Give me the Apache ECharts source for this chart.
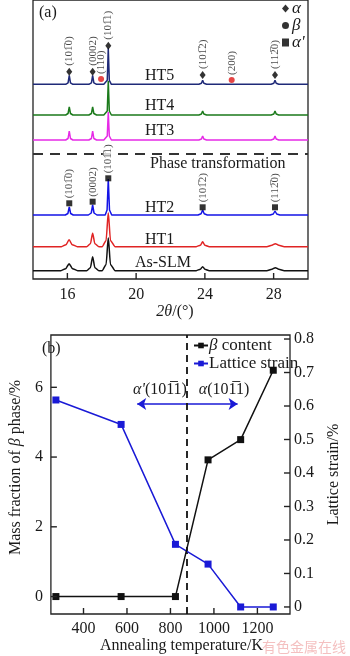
<!DOCTYPE html>
<html><head><meta charset="utf-8">
<script src="https://cdn.jsdelivr.net/npm/echarts@6/dist/echarts.min.js"></script>
<style>html,body{margin:0;padding:0;background:#fff}#c{width:350px;height:656px}</style>
</head><body><div id="c"></div>
<script>
// ================= Panel (a): XRD patterns =================
const thetaTicks = [16, 20, 24, 28];
const patternNames = ['HT5', 'HT4', 'HT3', 'HT2', 'HT1', 'As-SLM'];
// intensity profiles [2θ, intensity]
const ht5 = [[14,0],[15.9,0],[16.04,1.5],[16.11,9],[16.18,1.5],[16.32,0],[17.25,0],[17.4,1.5],[17.47,9],[17.54,1.5],[17.7,0],[17.95,0],[18.04,2],[18.12,0],[18.22,0],[18.32,4],[18.38,36],[18.44,4],[18.56,0],[23.65,0],[23.8,1],[23.87,4],[23.94,1],[24.1,0],[27.85,0],[28.01,1],[28.08,4],[28.15,1],[28.3,0],[30,0]];
const ht4 = [[14,0],[15.9,0],[16.04,1.5],[16.11,8],[16.18,1.5],[16.32,0],[17.25,0],[17.4,1.5],[17.47,8],[17.54,1.5],[17.7,0],[17.95,0],[18.04,1],[18.12,0],[18.22,0],[18.32,4],[18.38,34],[18.44,4],[18.56,0],[23.65,0],[23.8,1],[23.87,4],[23.94,1],[24.1,0],[27.85,0],[28.01,1],[28.08,4],[28.15,1],[28.3,0],[30,0]];
const ht3 = [[14,0],[15.9,0],[16.04,1.5],[16.11,9],[16.18,1.5],[16.32,0],[17.25,0],[17.4,1.5],[17.47,9],[17.54,1.5],[17.7,0],[17.95,0],[18.04,1],[18.12,0],[18.22,0],[18.32,4],[18.38,28],[18.44,4],[18.56,0],[23.65,0],[23.8,1],[23.87,4],[23.94,1],[24.1,0],[27.85,0],[28.01,1],[28.08,4],[28.15,1],[28.3,0],[30,0]];
const ht2 = [[14,0],[15.88,0],[16.03,1.5],[16.11,8],[16.19,1.5],[16.34,0],[17.22,0],[17.39,2],[17.47,10],[17.55,2],[17.72,0],[18.2,0],[18.31,5],[18.38,36],[18.45,5],[18.58,0],[23.6,0],[23.78,1.2],[23.87,5],[23.96,1.2],[24.14,0],[27.8,0],[27.98,1],[28.08,4],[28.18,1],[28.36,0],[30,0]];
const ht1 = [[14,0],[15.65,0],[15.92,2],[16.1,7],[16.28,2],[16.58,0],[17.12,0],[17.34,3],[17.47,13.5],[17.6,3],[17.84,0],[18.02,0],[18.25,6],[18.38,34],[18.51,6],[18.78,0],[23.5,0],[23.74,1.5],[23.87,5],[24.0,1.5],[24.26,0],[27.6,0],[27.9,1.5],[28.1,3],[28.3,1.5],[28.62,0],[30,0]];
const asSlm = [[14,0],[15.62,0],[15.9,2],[16.1,7],[16.3,2],[16.6,0],[17.12,0],[17.34,3],[17.47,14],[17.6,3],[17.84,0],[18.02,0],[18.25,6],[18.38,33],[18.51,6],[18.78,0],[23.5,0],[23.74,1.5],[23.87,4],[24.0,1.5],[24.26,0],[27.6,0],[27.9,1.5],[28.1,3],[28.3,1.5],[28.62,0],[30,0]];
const patterns = [ht5, ht4, ht3, ht2, ht1, asSlm];
const stackOffset = [194.7, 164, 139, 64, 32.3, 8.3];
const phaseLineLevel = 125;
// peak markers
const alphaPos = [16.11, 17.47, 18.38, 23.87, 28.08];
const alphaLevel = [207.3, 207.3, 233.3, 204, 204];
const hklLabels = ['(10'+'1\u0305'+'0)', '(0002)', '(10'+'1\u0305'+'1)', '(10'+'1\u0305'+'2)', '(11'+'2\u0305'+'0)'];
const betaPos = [17.96, 25.56];
const betaLevel = [200, 199];
const betaLabels = ['(110)', '(200)'];
const alphaPrimePos = [16.11, 17.47, 18.38, 23.87, 28.08];
const alphaPrimeLevel = [75.7, 77.3, 100.7, 71.7, 71.7];

// ================= Panel (b) =================
const temps = [273, 573, 823, 973, 1123, 1273];
const betaContent = [0, 0, 0, 3.92, 4.5, 6.49];
const latticeStrain = [0.618, 0.545, 0.187, 0.128, 0, 0];
const transitionT = 873;
const tempTicks = [400, 600, 800, 1000, 1200];
const massTicks = [0, 2, 4, 6];
const strainTicks = [0, 0.1, 0.2, 0.3, 0.4, 0.5, 0.6, 0.7, 0.8];
const arrowSpan = [647, 1109];
const arrowLevel = 0.606;

const thetaRange = [14, 30];
const tempRange = [250, 1350];
const massRange = [-0.5, 7.5];
const strainRange = [-0.021, 0.812];

const SERIF = '"Liberation Serif","Times New Roman",serif';
const colors = ['#1f2a78', '#1b7a1b', '#e62ae6', '#1414e6', '#e02424', '#111111'];
const ink = '#1a1a1a';
const TICK = 6;

const chart = echarts.init(document.getElementById('c'), null, {renderer: 'canvas'});

const lineSeries = patterns.map((p, i) => ({
  name: patternNames[i],
  type: 'line', xAxisIndex: 0, yAxisIndex: 0,
  data: p.map(d => [d[0], d[1] + stackOffset[i]]),
  showSymbol: false, symbol: 'none',
  smooth: i >= 4 ? 0.25 : false, smoothMonotone: 'x',
  lineStyle: {color: colors[i], width: 1.5},
  z: 2 + i,
  silent: true,
  markLine: i === 0 ? {
    symbol: 'none', silent: true, label: {show: false},
    lineStyle: {type: [10, 7], color: '#333', width: 1.8},
    data: [{yAxis: phaseLineLevel}]
  } : undefined
}));

const peakLabel = {
  show: true, position: 'top', distance: 2, rotate: 90, align: 'left', verticalAlign: 'middle',
  fontSize: 11, fontFamily: SERIF, color: ink,
  formatter: p => p.name
};

const series = lineSeries.concat([
  {
    name: 'α', type: 'scatter', xAxisIndex: 0, yAxisIndex: 0,
    symbol: 'diamond', symbolSize: [6, 8], itemStyle: {color: '#000'}, z: 20,
    data: alphaPos.map((x, i) => ({name: hklLabels[i], value: [x, alphaLevel[i]]})),
    label: peakLabel
  },
  {
    name: 'β', type: 'scatter', xAxisIndex: 0, yAxisIndex: 0,
    symbol: 'circle', symbolSize: 6, itemStyle: {color: '#e01818'}, z: 20,
    data: betaPos.map((x, i) => ({name: betaLabels[i], value: [x, betaLevel[i]]})),
    label: peakLabel
  },
  {
    name: "α'", type: 'scatter', xAxisIndex: 0, yAxisIndex: 0,
    symbol: 'rect', symbolSize: 6, itemStyle: {color: '#000'}, z: 20,
    data: alphaPrimePos.map((x, i) => ({name: hklLabels[i], value: [x, alphaPrimeLevel[i]]})),
    label: Object.assign({}, peakLabel, {backgroundColor: '#fff'})
  },
  {
    name: 'Lattice strain', type: 'line', xAxisIndex: 1, yAxisIndex: 2,
    data: temps.map((t, i) => [t, latticeStrain[i]]),
    symbol: 'rect', symbolSize: 7, showSymbol: true,
    lineStyle: {color: '#1a1ad6', width: 1.5}, itemStyle: {color: '#1a1ad6'}, z: 5,
    markLine: {
      silent: true, symbol: ['arrow', 'arrow'], symbolSize: 9, label: {show: false},
      lineStyle: {type: 'solid', color: '#1a1ad6', width: 1.5},
      data: [[{coord: [arrowSpan[0], arrowLevel]}, {coord: [arrowSpan[1], arrowLevel]}]]
    }
  },
  {
    name: 'β content', type: 'line', xAxisIndex: 1, yAxisIndex: 1,
    data: temps.map((t, i) => [t, betaContent[i]]),
    symbol: 'rect', symbolSize: 7, showSymbol: true,
    lineStyle: {color: '#111', width: 1.5}, itemStyle: {color: '#111'}, z: 6,
    markLine: {
      silent: true, symbol: 'none', label: {show: false},
      lineStyle: {type: [7, 5], color: '#111', width: 1.8},
      data: [{xAxis: transitionT}]
    }
  }
]);

const axisLabelStyle = {fontSize: 16, fontFamily: SERIF, color: ink};
const richItalic = {i: {fontStyle: 'italic', fontSize: 16, fontFamily: SERIF, color: ink}};
const richItalicL = {i: {fontStyle: 'italic', fontSize: 17, fontFamily: SERIF, color: ink}};
const noTick = {show: false};
const aLine = {show: false, onZero: false};

const texts = [
  {type: 'text', x: 39, y: 13, style: {text: '(a)', font: '16px ' + SERIF, fill: ink, verticalAlign: 'middle'}},
  {type: 'text', x: 145, y: 76, style: {text: 'HT5', font: '16px ' + SERIF, fill: ink, verticalAlign: 'middle'}},
  {type: 'text', x: 145, y: 106, style: {text: 'HT4', font: '16px ' + SERIF, fill: ink, verticalAlign: 'middle'}},
  {type: 'text', x: 145, y: 131, style: {text: 'HT3', font: '16px ' + SERIF, fill: ink, verticalAlign: 'middle'}},
  {type: 'text', x: 150, y: 164, style: {text: 'Phase transformation', font: '16px ' + SERIF, fill: ink, verticalAlign: 'middle'}},
  {type: 'text', x: 145, y: 208, style: {text: 'HT2', font: '16px ' + SERIF, fill: ink, verticalAlign: 'middle'}},
  {type: 'text', x: 145, y: 240, style: {text: 'HT1', font: '16px ' + SERIF, fill: ink, verticalAlign: 'middle'}},
  {type: 'text', x: 135, y: 263, style: {text: 'As-SLM', font: '16px ' + SERIF, fill: ink, verticalAlign: 'middle'}},
  {type: 'text', x: 42, y: 349, style: {text: '(b)', font: '16px ' + SERIF, fill: ink, verticalAlign: 'middle'}},
  {type: 'text', x: 160, y: 390, style: {text: "{i|α'}(10" + '1\u0305' + '1)', font: '16px ' + SERIF, fill: ink, align: 'center', verticalAlign: 'middle', rich: richItalic}},
  {type: 'text', x: 224, y: 390, style: {text: '{i|α}(10' + '1\u0305' + '1)', font: '16px ' + SERIF, fill: ink, align: 'center', verticalAlign: 'middle', rich: richItalic}},
  {type: 'text', x: 346, y: 647, style: {text: '有色金属在线', font: '14px "Noto Sans CJK SC"', fill: 'rgba(235,140,140,0.55)', align: 'right', verticalAlign: 'middle'}}
];

const option = {
  animation: false,
  backgroundColor: '#fff',
  textStyle: {fontFamily: SERIF},
  grid: [
    {left: 33, top: 0, width: 275, height: 279, show: true, borderColor: '#222', borderWidth: 1.3, containLabel: false},
    {left: 34, top: 335, width: 274, height: 279, show: true, borderColor: '#222', borderWidth: 1.3, containLabel: false}
  ],
  legend: [
    {
      orient: 'vertical', left: 282, top: 0, padding: 0, itemGap: 0,
      itemWidth: 7, itemHeight: 8, selectedMode: false,
      textStyle: {fontSize: 17, fontFamily: SERIF, fontStyle: 'italic', color: ink, lineHeight: 16, padding: [0, 0, 0, -2]},
      data: [
        {name: 'α', icon: 'diamond', itemStyle: {color: '#000'}},
        {name: 'β', icon: 'circle', itemStyle: {color: '#000'}},
        {name: "α'", icon: 'rect', itemStyle: {color: '#000'}}
      ]
    },
    {
      orient: 'vertical', left: 193, top: 337, padding: 0, itemGap: 1,
      itemWidth: 14, itemHeight: 7, selectedMode: false,
      textStyle: {fontSize: 17, fontFamily: SERIF, color: ink, lineHeight: 16, padding: [0, 0, 0, -4], rich: richItalicL},
      formatter: n => n === 'β content' ? '{i|β} content' : n,
      data: ['β content', 'Lattice strain']
    }
  ],
  xAxis: [
    {
      gridIndex: 0, type: 'value', min: thetaRange[0], max: thetaRange[1], position: 'bottom',
      axisLine: aLine, splitLine: {show: false}, axisTick: noTick,
      axisLabel: Object.assign({customValues: thetaTicks, margin: 8, formatter: v => String(v)}, axisLabelStyle),
      name: '{i|2θ}/(°)', nameLocation: 'middle', nameGap: 25,
      nameTextStyle: {fontSize: 16, fontFamily: SERIF, color: ink, rich: richItalic, padding: [0, 0, 0, 9]}
    },
    {
      gridIndex: 1, type: 'value', min: tempRange[0], max: tempRange[1], position: 'bottom',
      axisLine: aLine, splitLine: {show: false}, axisTick: noTick,
      axisLabel: Object.assign({customValues: tempTicks, margin: 7, formatter: v => String(v)}, axisLabelStyle),
      name: 'Annealing temperature/K', nameLocation: 'middle', nameGap: 20,
      nameTextStyle: {fontSize: 16, fontFamily: SERIF, color: ink, padding: [0, 0, 0, 22]}
    }
  ],
  yAxis: [
    {gridIndex: 0, type: 'value', min: 0, max: 279, show: false, splitLine: {show: false}},
    {
      gridIndex: 1, type: 'value', min: massRange[0], max: massRange[1], position: 'left',
      axisLine: aLine, splitLine: {show: false}, axisTick: noTick,
      axisLabel: Object.assign({customValues: massTicks, margin: 8, formatter: v => String(v)}, axisLabelStyle),
      name: 'Mass fraction of {i|β} phase/%', nameLocation: 'middle', nameGap: 25,
      nameTextStyle: {fontSize: 16, fontFamily: SERIF, color: ink, rich: richItalic, padding: [0, 0, 0, 14]}
    },
    {
      gridIndex: 1, type: 'value', min: strainRange[0], max: strainRange[1], position: 'right',
      axisLine: aLine, splitLine: {show: false}, axisTick: noTick,
      axisLabel: Object.assign({customValues: strainTicks, margin: 4, formatter: v => v === 0 ? '0' : v.toFixed(1)}, axisLabelStyle),
      name: 'Lattice strain/%', nameLocation: 'middle', nameGap: 36, nameRotate: 90,
      nameTextStyle: {fontSize: 16, fontFamily: SERIF, color: ink}
    }
  ],
  graphic: texts,
  series: series
};
chart.setOption(option);

// inward tick marks, positioned through the axes' own scales
const tickEls = [];
function addTick(finder, val, dx, dy) {
  const p = chart.convertToPixel(finder, val);
  if (!p || isNaN(p[0]) || isNaN(p[1])) return;
  tickEls.push({type: 'line', z: 100, silent: true,
    shape: {x1: p[0], y1: p[1], x2: p[0] + dx, y2: p[1] + dy},
    style: {stroke: '#222', lineWidth: 1.4}});
}
thetaTicks.forEach(v => addTick({xAxisIndex: 0, yAxisIndex: 0}, [v, 0], 0, -TICK));
tempTicks.forEach(v => addTick({xAxisIndex: 1, yAxisIndex: 1}, [v, massRange[0]], 0, -TICK));
massTicks.forEach(v => addTick({xAxisIndex: 1, yAxisIndex: 1}, [tempRange[0], v], TICK, 0));
strainTicks.forEach(v => addTick({xAxisIndex: 1, yAxisIndex: 2}, [tempRange[1], v], -TICK, 0));
chart.setOption({graphic: texts.concat(tickEls)});
</script>
</body></html>
